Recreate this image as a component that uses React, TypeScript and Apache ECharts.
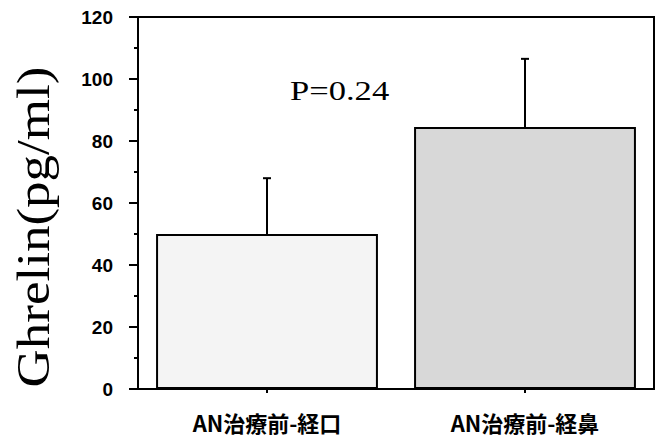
import React, { useEffect, useRef } from "react";
import * as echarts from "echarts";

const categories = ["AN治療前-経口", "AN治療前-経鼻"];
const means = [50, 84.5];
const upperErrors = [68, 106.5];
const barColors = ["#f4f4f4", "#d8d8d8"];
const yTicks = { min: 0, max: 120, interval: 20 };
const pLabel = "P=0.24";
const yTitle = "Ghrelin(pg/ml)";

export default function App() {
  const ref = useRef<HTMLDivElement>(null);
  useEffect(() => {
    if (!ref.current) return;
    const chart = echarts.init(ref.current, undefined, { renderer: "svg" });
    chart.setOption({
      animation: false,
      backgroundColor: "#ffffff",
      grid: {
        left: 138,
        right: 1,
        top: 17,
        bottom: 48,
        containLabel: false,
        outerBoundsMode: "none",
        show: true,
        borderColor: "#000",
        borderWidth: 2,
        backgroundColor: "transparent",
      },
      xAxis: {
        type: "category",
        data: categories,
        axisLine: { lineStyle: { color: "#000", width: 2 } },
        axisTick: { show: true, alignWithLabel: true, length: 4, lineStyle: { color: "#000", width: 2 } },
        axisLabel: {
          color: "#000",
          fontSize: 22,
          fontWeight: "bold",
          fontFamily: "Noto Sans CJK JP",
          margin: 22,
        },
      },
      yAxis: {
        type: "value",
        min: yTicks.min,
        max: yTicks.max,
        interval: yTicks.interval,
        splitLine: { show: false },
        axisLine: { show: true, lineStyle: { color: "#000", width: 2 } },
        axisTick: { show: true, length: 9, lineStyle: { color: "#000", width: 2 } },
        minorTick: { show: true, splitNumber: 2, length: 4, lineStyle: { color: "#000", width: 2 } },
        axisLabel: {
          color: "#000",
          fontSize: 19,
          fontWeight: "bold",
          fontFamily: "Liberation Sans",
          margin: 25,
        },
      },
      series: [
        {
          type: "bar",
          barWidth: "86%",
          data: means.map((v, i) => ({
            value: v,
            itemStyle: { color: barColors[i], borderColor: "#000", borderWidth: 2 },
          })),
          z: 2,
        },
        {
          type: "custom",
          z: 1,
          data: means.map((v, i) => [i, v, upperErrors[i]]),
          renderItem: (params: any, api: any) => {
            const base = api.coord([api.value(0), api.value(1)]);
            const top = api.coord([api.value(0), api.value(2)]);
            return {
              type: "group",
              children: [
                {
                  type: "line",
                  shape: { x1: base[0], y1: base[1], x2: top[0], y2: top[1] },
                  style: { stroke: "#000", lineWidth: 2 },
                },
                {
                  type: "line",
                  shape: { x1: top[0] - 4, y1: top[1], x2: top[0] + 4, y2: top[1] },
                  style: { stroke: "#000", lineWidth: 2 },
                },
              ],
            };
          },
        },
      ],
      graphic: [
        {
          type: "text",
          x: 290,
          y: 77,
          scaleX: 1.28,
          style: {
            text: pLabel,
            fontSize: 27,
            fontFamily: "Liberation Serif",
            fill: "#000",
          },
        },
        {
          type: "text",
          x: 34,
          y: 227,
          rotation: Math.PI / 2,
          scaleY: 0.88,
          style: {
            text: yTitle,
            fontSize: 53,
            fontFamily: "Liberation Serif",
            fill: "#000",
            align: "center",
            verticalAlign: "middle",
          },
        },
      ],
    });
    return () => chart.dispose();
  }, []);
  return (
    <div
      ref={ref}
      style={{ position: "absolute", left: 0, top: 0, width: 655, height: 437, background: "#fff" }}
    />
  );
}
